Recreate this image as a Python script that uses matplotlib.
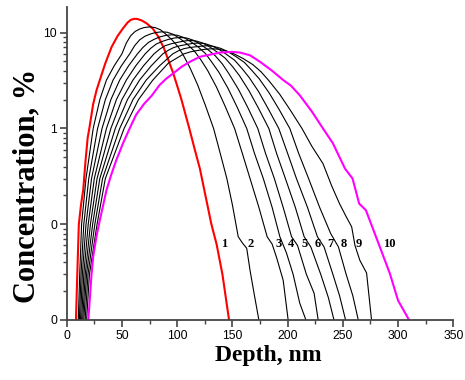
import numpy as np
import matplotlib.pyplot as plt
from matplotlib.ticker import FixedLocator, FixedFormatter, LogLocator, NullFormatter, MultipleLocator

# ------------------------------------------------------------
# depth profiles (depth nm, concentration %)
# ------------------------------------------------------------
x1 = [8.4, 9.6, 11, 13, 15, 17, 19, 20.5, 24, 27, 30, 35, 40.7, 46, 51, 55, 58, 61, 64, 68,
      72.4, 78, 82.9, 88, 92, 96.5, 100, 104, 111, 116, 120.6, 126, 131, 135.7, 141, 147]
y1 = [0.01, 0.03, 0.1, 0.16, 0.23, 0.45, 0.8, 1.0, 1.8, 2.5, 3.2, 4.8, 7.1, 9.2, 11.1, 12.7, 13.6, 13.95, 13.9, 13.4,
      12.5, 11.0, 9.1, 6.9, 5.2, 3.76, 2.8, 1.98, 1.0, 0.6, 0.38, 0.19, 0.1, 0.062, 0.03, 0.01]

x2 = [10.5, 11.8, 13.5, 17.5, 24, 30, 36, 43, 50, 54, 58, 62, 66, 70, 75, 80, 85, 89.5, 95,
      101.1, 106, 111.5, 118.5, 125.5, 133, 139, 145, 150, 155.3, 159, 163, 166, 170, 174]
y2 = [0.01, 0.03, 0.1, 0.3, 1.0, 2.0, 3.2, 4.5, 6.0, 7.8, 9.3, 10.3, 10.9, 11.3, 11.5, 11.3, 10.7, 9.7, 8.5,
      7.06, 5.7, 4.33, 2.86, 1.75, 1.0, 0.55, 0.3, 0.16, 0.074, 0.064, 0.056, 0.033, 0.018, 0.01]

x3 = [11.5, 13, 15.5, 20, 28, 35, 42, 49.5, 57, 61.5, 66, 71, 76, 81, 86, 91, 96.5, 102.5,
      109, 115.7, 121.5, 127.6, 135.5, 143.4, 152, 159, 166, 174, 181.5, 186, 190, 196, 200.5]
y3 = [0.01, 0.03, 0.1, 0.3, 1.0, 2.0, 3.2, 4.5, 6.0, 7.3, 8.4, 9.2, 9.7, 10.05, 10.2, 10.1, 9.6, 8.68,
      7.6, 6.41, 5.2, 4.03, 2.72, 1.71, 1.0, 0.55, 0.3, 0.15, 0.074, 0.062, 0.045, 0.026, 0.01]

x4 = [12.5, 14.2, 17.5, 22.5, 32, 40, 48, 56, 64, 69, 74, 79, 84, 89.5, 95, 100, 106, 112,
      119, 125.6, 131.5, 137.8, 146, 154.2, 163, 170, 178, 186, 193, 199, 205, 211, 216.6]
y4 = [0.01, 0.03, 0.1, 0.3, 1.0, 2.0, 3.2, 4.5, 6.0, 7.0, 7.9, 8.5, 9.0, 9.35, 9.5, 9.4, 8.9, 8.1,
      7.1, 6.06, 4.9, 3.86, 2.63, 1.68, 1.0, 0.55, 0.3, 0.15, 0.074, 0.05, 0.03, 0.015, 0.01]

x5 = [13.5, 15.5, 19.5, 25, 36, 45, 54, 62.5, 71, 76, 81, 86.5, 92, 97.5, 103, 108.5, 114.5, 120.5,
      127.5, 134.5, 141, 147, 155.5, 164, 173, 180, 188, 196, 203.6, 209, 217, 224, 227.7]
y5 = [0.01, 0.03, 0.1, 0.3, 1.0, 2.0, 3.2, 4.5, 6.0, 6.85, 7.6, 8.1, 8.5, 8.8, 8.9, 8.8, 8.35, 7.63,
      6.7, 5.74, 4.7, 3.71, 2.56, 1.65, 1.0, 0.55, 0.3, 0.15, 0.074, 0.06, 0.03, 0.019, 0.01]

x6 = [14.5, 16.8, 21.5, 27.5, 40, 50, 60, 69.5, 79, 84, 89, 94.5, 100, 105.5, 111, 117, 123, 129,
      136, 143.4, 150, 156.4, 165, 173.6, 183, 190, 198, 207, 215, 221, 230, 237, 242]
y6 = [0.01, 0.03, 0.1, 0.3, 1.0, 2.0, 3.2, 4.5, 6.0, 6.7, 7.3, 7.65, 7.9, 8.15, 8.3, 8.2, 7.8, 7.16,
      6.3, 5.43, 4.45, 3.56, 2.48, 1.63, 1.0, 0.55, 0.3, 0.15, 0.074, 0.058, 0.03, 0.017, 0.01]

x7 = [15.5, 18, 23.5, 30, 44, 55, 66, 76.5, 87, 92, 97, 102.5, 108, 113.5, 119, 125, 131, 137.3,
      144.5, 151.9, 158.5, 165, 173.8, 182.5, 192, 200, 208, 218, 227, 233, 241, 247, 252.5]
y7 = [0.01, 0.03, 0.1, 0.3, 1.0, 2.0, 3.2, 4.5, 6.0, 6.55, 7.0, 7.3, 7.5, 7.7, 7.8, 7.7, 7.3, 6.76,
      5.95, 5.17, 4.25, 3.43, 2.42, 1.60, 1.0, 0.55, 0.3, 0.15, 0.074, 0.058, 0.03, 0.018, 0.01]

x8 = [16.7, 19.3, 25.5, 32.5, 48, 60, 72, 84, 96, 101, 106, 111, 116, 121.5, 127, 133, 139.5, 145.8,
      153, 160.8, 167.5, 174.3, 183.3, 192.3, 202, 210, 219, 229, 239, 246, 253, 259, 264]
y8 = [0.01, 0.03, 0.1, 0.3, 1.0, 2.0, 3.2, 4.5, 6.0, 6.45, 6.8, 6.98, 7.1, 7.22, 7.3, 7.2, 6.85, 6.35,
      5.65, 4.9, 4.05, 3.30, 2.35, 1.58, 1.0, 0.55, 0.3, 0.15, 0.08, 0.058, 0.03, 0.018, 0.01]

x9 = [18, 20.6, 27.5, 35, 52, 65, 78, 92, 106, 112, 118, 125, 132, 138, 145, 152.3, 160, 168.5,
      176, 183, 192.8, 202.5, 213, 222, 232, 240, 247, 253, 258, 261, 265.4, 271.5, 276]
y9 = [0.01, 0.03, 0.1, 0.3, 1.0, 2.0, 3.2, 4.8, 6.0, 6.3, 6.5, 6.7, 6.8, 6.7, 6.4, 5.95, 5.35, 4.64,
      3.9, 3.16, 2.28, 1.55, 1.0, 0.65, 0.43, 0.25, 0.164, 0.12, 0.094, 0.06, 0.042, 0.031, 0.01]

x10 = [19.6, 22.5, 24, 27, 30, 36, 40, 45, 51, 57, 63, 70, 77, 84, 90, 96.5, 104, 111.6, 120.6,
       130, 138.7, 150, 157, 166, 175, 186, 196, 203, 211, 222, 232, 241, 252, 258.8, 264.8,
       270.9, 283.5, 292.6, 300, 310]
y10 = [0.01, 0.03, 0.046, 0.075, 0.11, 0.226, 0.32, 0.47, 0.70, 1.0, 1.4, 1.8, 2.2, 2.83, 3.3,
       3.76, 4.4, 4.97, 5.6, 5.9, 6.2, 6.3, 6.2, 5.8, 4.97, 4.0, 3.2, 2.8, 2.22, 1.5, 1.0, 0.70,
       0.38, 0.30, 0.164, 0.14, 0.058, 0.0305, 0.016, 0.01]

xs = [x1, x2, x3, x4, x5, x6, x7, x8, x9, x10]
ys = [y1, y2, y3, y4, y5, y6, y7, y8, y9, y10]
names = ["1", "2", "3", "4", "5", "6", "7", "8", "9", "10"]
label_x = [142.6, 166.5, 192, 202.7, 215, 226.8, 238.3, 251, 264, 291.7]
label_y = 0.062

# ------------------------------------------------------------
# PLOT
# ------------------------------------------------------------
fig = plt.figure(figsize=(4.65, 3.8), dpi=100)
ax = fig.add_axes([0.1434, 0.1579, 0.8314, 0.8229])

for i in range(10):
    if i == 0:
        col, lw = "red", 1.5
    elif i == 9:
        col, lw = "magenta", 1.5
    else:
        col, lw = "black", 0.8
    ax.plot(xs[i], ys[i], color=col, lw=lw)
    ax.text(label_x[i], label_y, names[i], ha="center", va="center",
            fontsize=9, fontweight="bold", family="Liberation Serif")

ax.set_yscale("log")
ax.set_xlim(0, 350)
ax.set_ylim(0.01, 18.4)

ax.xaxis.set_major_locator(MultipleLocator(50))
ax.xaxis.set_minor_locator(MultipleLocator(25))
ax.yaxis.set_major_locator(FixedLocator([0.01, 0.1, 1, 10]))
ax.yaxis.set_major_formatter(FixedFormatter(["0", "0", "1", "10"]))
ax.yaxis.set_minor_locator(LogLocator(base=10, subs=np.arange(2, 10)))
ax.yaxis.set_minor_formatter(NullFormatter())

for s in ["top", "right"]:
    ax.spines[s].set_visible(False)
for s in ["left", "bottom"]:
    ax.spines[s].set_linewidth(1.3)
    ax.spines[s].set_color("#444444")

ax.tick_params(which="major", direction="out", length=5, width=1.2, color="#444444",
               labelsize=8.7, pad=2)
ax.tick_params(which="minor", direction="out", length=3, width=1.0, color="#444444")
for lab in ax.get_xticklabels() + ax.get_yticklabels():
    lab.set_family("Liberation Sans")

# axis titles placed like the original (y title sits a bit low)
fig.text(268 / 465, 1 - 356 / 380, "Depth, nm", ha="center", va="center",
         fontsize=17, fontweight="bold", family="Liberation Serif")
fig.text(27 / 465, 1 - 186 / 380, "Concentration, %", ha="center", va="center", rotation=90,
         fontsize=22, fontweight="bold", family="Liberation Serif")

fig.savefig("out.png", dpi=100)
